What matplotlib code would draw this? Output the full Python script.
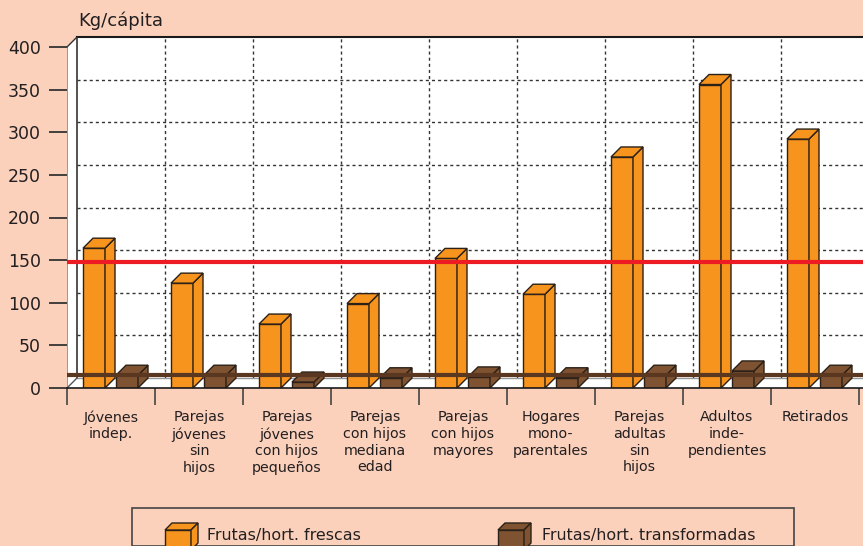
import matplotlib
matplotlib.use("Agg")
import matplotlib.pyplot as plt
from matplotlib.patches import Polygon, Rectangle
import numpy as np

plt.rcParams['font.family'] = ['DejaVu Sans']

categories = ["Jóvenes\nindep.", "Parejas\njóvenes\nsin\nhijos", "Parejas\njóvenes\ncon hijos\npequeños",
              "Parejas\ncon hijos\nmediana\nedad", "Parejas\ncon hijos\nmayores", "Hogares\nmono-\nparentales",
              "Parejas\nadultas\nsin\nhijos", "Adultos\ninde-\npendientes", "Retirados"]
frescas = [164, 123, 75, 99, 152, 110, 271, 356, 292]
transformadas = [15, 15, 7, 12, 13, 12, 15, 20, 15]
media_frescas = 148
media_transformadas = 15.5
yticks = [0, 50, 100, 150, 200, 250, 300, 350, 400]
series_names = ["Frutas/hort. frescas", "Frutas/hort. transformadas"]

W, H = 863, 546
BG = "#FBD1BC"
ORANGE = "#F7941D"
BROWN = "#7F5331"
EDGE = "#2B2118"

fig = plt.figure(figsize=(W / 100, H / 100), dpi=100, facecolor=BG)

# axes geometry in pixels
x0px, y0px = 67, 388
px_per_cat = 88
px_per_unit = 0.8525
top_px = 37
xmax = (W - x0px) / px_per_cat
ymax = (y0px - top_px) / px_per_unit
ax = fig.add_axes([x0px / W, (H - y0px) / H, (W - x0px) / W, (y0px - top_px) / H])
ax.set_xlim(0, xmax)
ax.set_ylim(0, ymax)
ax.set_facecolor("none")
for s in ax.spines.values():
    s.set_visible(False)

dx = 10 / px_per_cat
dy = 10 / px_per_unit

# white wall area
ax.add_patch(Polygon([(0, 0), (xmax, 0), (xmax, ymax), (dx, ymax), (0, 400)],
                     closed=True, facecolor="white", edgecolor="none", zorder=0))

# back wall gridlines
for v in yticks[1:-1]:
    ax.plot([dx, xmax], [v + dy, v + dy], color="#333333", lw=1, ls=(0, (2.2, 2.2)), zorder=1)
for i in range(1, 10):
    ax.plot([i + dx, i + dx], [dy, ymax], color="#333333", lw=1, ls=(0, (2.2, 2.2)), zorder=1)
# wall edges
ax.plot([dx, xmax], [ymax, ymax], color="#1a1a1a", lw=1.5, zorder=1, clip_on=False)
ax.plot([dx, dx], [dy, ymax], color="#333333", lw=1.2, zorder=1)
ax.plot([0, 0], [0, 400], color="#888888", lw=1.2, zorder=1)
ax.plot([0, dx], [400, ymax], color="#333333", lw=1, zorder=1)
ax.plot([dx, xmax], [dy, dy], color="#999999", lw=1, zorder=1)
ax.plot([0, dx], [0, dy], color="#555555", lw=1, zorder=1)

# bars
x = np.arange(len(categories))
w = 22 / px_per_cat
off_o = 16 / px_per_cat
off_b = 49 / px_per_cat


def draw_3d(ax, xs, hs, color):
    bars = ax.bar(xs, hs, width=w, align="edge", color=color, edgecolor=EDGE, linewidth=1, zorder=3)
    for b in bars:
        bx, bw, bh = b.get_x(), b.get_width(), b.get_height()
        top = Polygon([(bx, bh), (bx + bw, bh), (bx + bw + dx, bh + dy), (bx + dx, bh + dy)],
                      closed=True, facecolor=color, edgecolor=EDGE, lw=1, zorder=3)
        side = Polygon([(bx + bw, 0), (bx + bw + dx, dy), (bx + bw + dx, bh + dy), (bx + bw, bh)],
                       closed=True, facecolor=color, edgecolor=EDGE, lw=1, zorder=3)
        ax.add_patch(side)
        ax.add_patch(top)


draw_3d(ax, x + off_o, frescas, ORANGE)
draw_3d(ax, x + off_b, transformadas, BROWN)

# average lines
ax.plot([0, xmax], [media_frescas, media_frescas], color="#ED1C24", lw=3.0, zorder=5, solid_capstyle="butt")
ax.plot([0, xmax], [media_transformadas, media_transformadas], color="#5A3720", lw=3.0, zorder=5, solid_capstyle="butt")

# bottom front line
ax.plot([0, xmax], [0, 0], color="#1a1a1a", lw=1.2, zorder=4, clip_on=False)

# y ticks
ax.set_yticks(yticks)
ax.set_yticklabels([str(v) for v in yticks], fontsize=12.5, color="#231F20")
ax.tick_params(axis="y", length=12.75, width=1.3, color="#333333", pad=6)

# x ticks: separators as major, labels as minor
ax.set_xticks(np.arange(0, 10))
ax.set_xticklabels([])
ax.tick_params(axis="x", which="major", length=12, width=1.2, color="#444444", direction="out")
ax.set_xticks(x + 0.5, minor=True)
ax.set_xticklabels(categories, minor=True, fontsize=10.3, color="#231F20", linespacing=1.25)
ax.tick_params(axis="x", which="minor", length=0, pad=16)

fig.text(78 / W, 1 - 26 / H, "Kg/cápita", fontsize=13, color="#231F20", ha="left", va="baseline")

# legend box
lx0, lx1, ly0 = 132, 794, 513
fig.patches.append(Rectangle((lx0 / W, 0), (lx1 - lx0) / W, (H - ly0) / H + 0.01,
                             transform=fig.transFigure, facecolor="none", edgecolor="#444444", lw=1.2))


def legend_cube(px, py, color):
    s, d, h = 26, 7, 20
    pts_front = [(px, py + h), (px + s, py + h), (px + s, py), (px, py)]
    pts_top = [(px, py), (px + s, py), (px + s + d, py - d), (px + d, py - d)]
    pts_side = [(px + s, py), (px + s + d, py - d), (px + s + d, py + h - d), (px + s, py + h)]
    for pts in (pts_front, pts_top, pts_side):
        fig.patches.append(Polygon([(a / W, 1 - b / H) for a, b in pts], closed=True,
                                   transform=fig.transFigure, facecolor=color, edgecolor=EDGE, lw=1))


legend_cube(165, 530, ORANGE)
legend_cube(498, 530, BROWN)
fig.text(207 / W, 1 - 540 / H, series_names[0], fontsize=11.4, color="#231F20", va="baseline")
fig.text(542 / W, 1 - 540 / H, series_names[1], fontsize=11.4, color="#231F20", va="baseline")

fig.savefig("out.png", dpi=100, facecolor=BG)
